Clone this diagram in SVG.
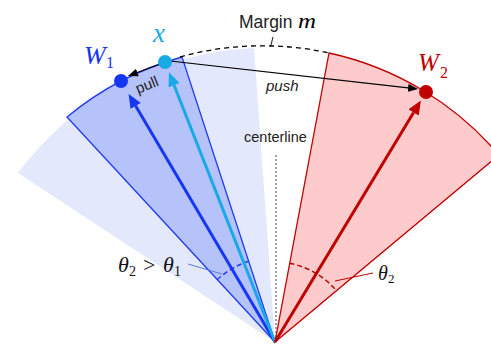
<svg xmlns="http://www.w3.org/2000/svg" width="491" height="344" viewBox="0 0 491 344">
  <style>
    .sans { font-family: "Liberation Sans", Arial, sans-serif; fill: #222; }
    .math { font-family: "Liberation Serif", "Times New Roman", serif; font-style: italic; }
    .sub { font-style: normal; }
    .edge-blue { stroke: #1F3CF5; stroke-width: 1.3; }
    .edge-red { stroke: #C00000; stroke-width: 1.3; }
  </style>
  <defs>
    <marker id="ah-blue" viewBox="0 0 14 12" markerWidth="14" markerHeight="12" refX="0" refY="6" orient="auto" markerUnits="userSpaceOnUse">
      <path d="M0,0 L14,6 L0,12 Z" fill="#1537F2"/>
    </marker>
    <marker id="ah-cyan" viewBox="0 0 14 12" markerWidth="14" markerHeight="12" refX="0" refY="6" orient="auto" markerUnits="userSpaceOnUse">
      <path d="M0,0 L14,6 L0,12 Z" fill="#17AAE6"/>
    </marker>
    <marker id="ah-red" viewBox="0 0 14 12" markerWidth="14" markerHeight="12" refX="0" refY="6" orient="auto" markerUnits="userSpaceOnUse">
      <path d="M0,0 L14,6 L0,12 Z" fill="#C00000"/>
    </marker>
    <marker id="ah-black" viewBox="0 0 10 8" markerWidth="10" markerHeight="8" refX="0" refY="4" orient="auto" markerUnits="userSpaceOnUse">
      <path d="M0,0 L10,4 L0,8 Z" fill="#000"/>
    </marker>
  </defs>

  <!-- sectors -->
  <g id="sector-light">
    <path d="M275,342 L18,173 A310,310 0 0,1 254,48 Z" fill="#E3E8FD"/>
  </g>
  <g id="sector-red">
    <path d="M275,342 L329,53 A310,310 0 0,1 499,155 Z" fill="#FDCBCB" class="edge-red"/>
  </g>
  <g id="sector-blue">
    <path d="M275,342 L67,117 A310,310 0 0,1 182,57 Z" fill="#B6C2FA" class="edge-blue"/>
  </g>

  <!-- margin & centerline -->
  <g id="margin">
    <path d="M180,57 A310,310 0 0,1 329,53" fill="none" stroke="#000" stroke-width="1.3" stroke-dasharray="5,4"/>
    <line x1="273" y1="37" x2="270.5" y2="47" stroke="#000" stroke-width="0.9"/>
    <text x="239" y="28" class="sans" font-size="17.5">Margin <tspan class="math" font-size="20" fill="#000" x="298" textLength="18" lengthAdjust="spacingAndGlyphs">m</tspan></text>
  </g>
  <g id="centerline">
    <line x1="276" y1="155" x2="276" y2="342" stroke="#555" stroke-width="1.1" stroke-dasharray="2,2"/>
    <text x="244" y="142" class="sans" font-size="14.5">centerline</text>
  </g>

  <!-- angle marks -->
  <g id="theta1">
    <path d="M217.1,279.8 A85,85 0 0,1 248.7,261.2" fill="none" stroke="#1F3CF5" stroke-width="1.5" stroke-dasharray="5,3"/>
    <line x1="188" y1="264" x2="222" y2="274" stroke="#5E7BDF" stroke-width="1"/>
    <text class="math" font-size="22" fill="#111" y="272"><tspan x="118">θ</tspan><tspan x="129" y="276" class="sub" font-size="14">2</tspan><tspan x="143" y="272" class="sub">&gt;</tspan><tspan x="163" y="272">θ</tspan><tspan x="174" y="276" class="sub" font-size="14">1</tspan></text>
  </g>
  <g id="theta2">
    <path d="M289.4,263.3 A80,80 0 0,1 336.3,290.6" fill="none" stroke="#C00000" stroke-width="1.5" stroke-dasharray="5,3"/>
    <line x1="335" y1="281" x2="373" y2="273" stroke="#C00000" stroke-width="1"/>
    <text class="math" font-size="20" fill="#111" y="280"><tspan x="378">θ</tspan><tspan x="388" y="283" class="sub" font-size="13">2</tspan></text>
  </g>

  <!-- connectors -->
  <g id="connectors">
    <line x1="275" y1="342" x2="135.7" y2="106" stroke="#1537F2" stroke-width="3" marker-end="url(#ah-blue)"/>
    <line x1="275" y1="342" x2="174.1" y2="85.3" stroke="#17AAE6" stroke-width="3" marker-end="url(#ah-cyan)"/>
    <line x1="275" y1="342" x2="413.6" y2="112.5" stroke="#C00000" stroke-width="3" marker-end="url(#ah-red)"/>
    <line x1="170" y1="61" x2="408.1" y2="87.9" stroke="#000" stroke-width="1.2" marker-end="url(#ah-black)"/>
    <line x1="159" y1="64.5" x2="137.4" y2="72.5" stroke="#000" stroke-width="1.2" marker-end="url(#ah-black)"/>
    <text x="138" y="94" class="sans" font-size="15" transform="rotate(-22 138 94)">pull</text>
    <text x="266" y="91" class="sans" font-size="15" font-style="italic">push</text>
  </g>

  <!-- nodes -->
  <g id="node-W1">
    <circle cx="121" cy="81" r="7" fill="#1537F2"/>
    <text class="math" font-size="26" fill="#1537F2" y="64"><tspan x="84">W</tspan><tspan x="106" y="68" class="sub" font-size="16">1</tspan></text>
  </g>
  <g id="node-x">
    <circle cx="165" cy="62" r="7" fill="#17AAE6"/>
    <text x="153" y="42" class="math" font-size="27" fill="#17AAE6">x</text>
  </g>
  <g id="node-W2">
    <circle cx="426" cy="92" r="7" fill="#C00000"/>
    <text class="math" font-size="25" fill="#C00000" y="71"><tspan x="418">W</tspan><tspan x="440" y="78" class="sub" font-size="16">2</tspan></text>
  </g>
</svg>
